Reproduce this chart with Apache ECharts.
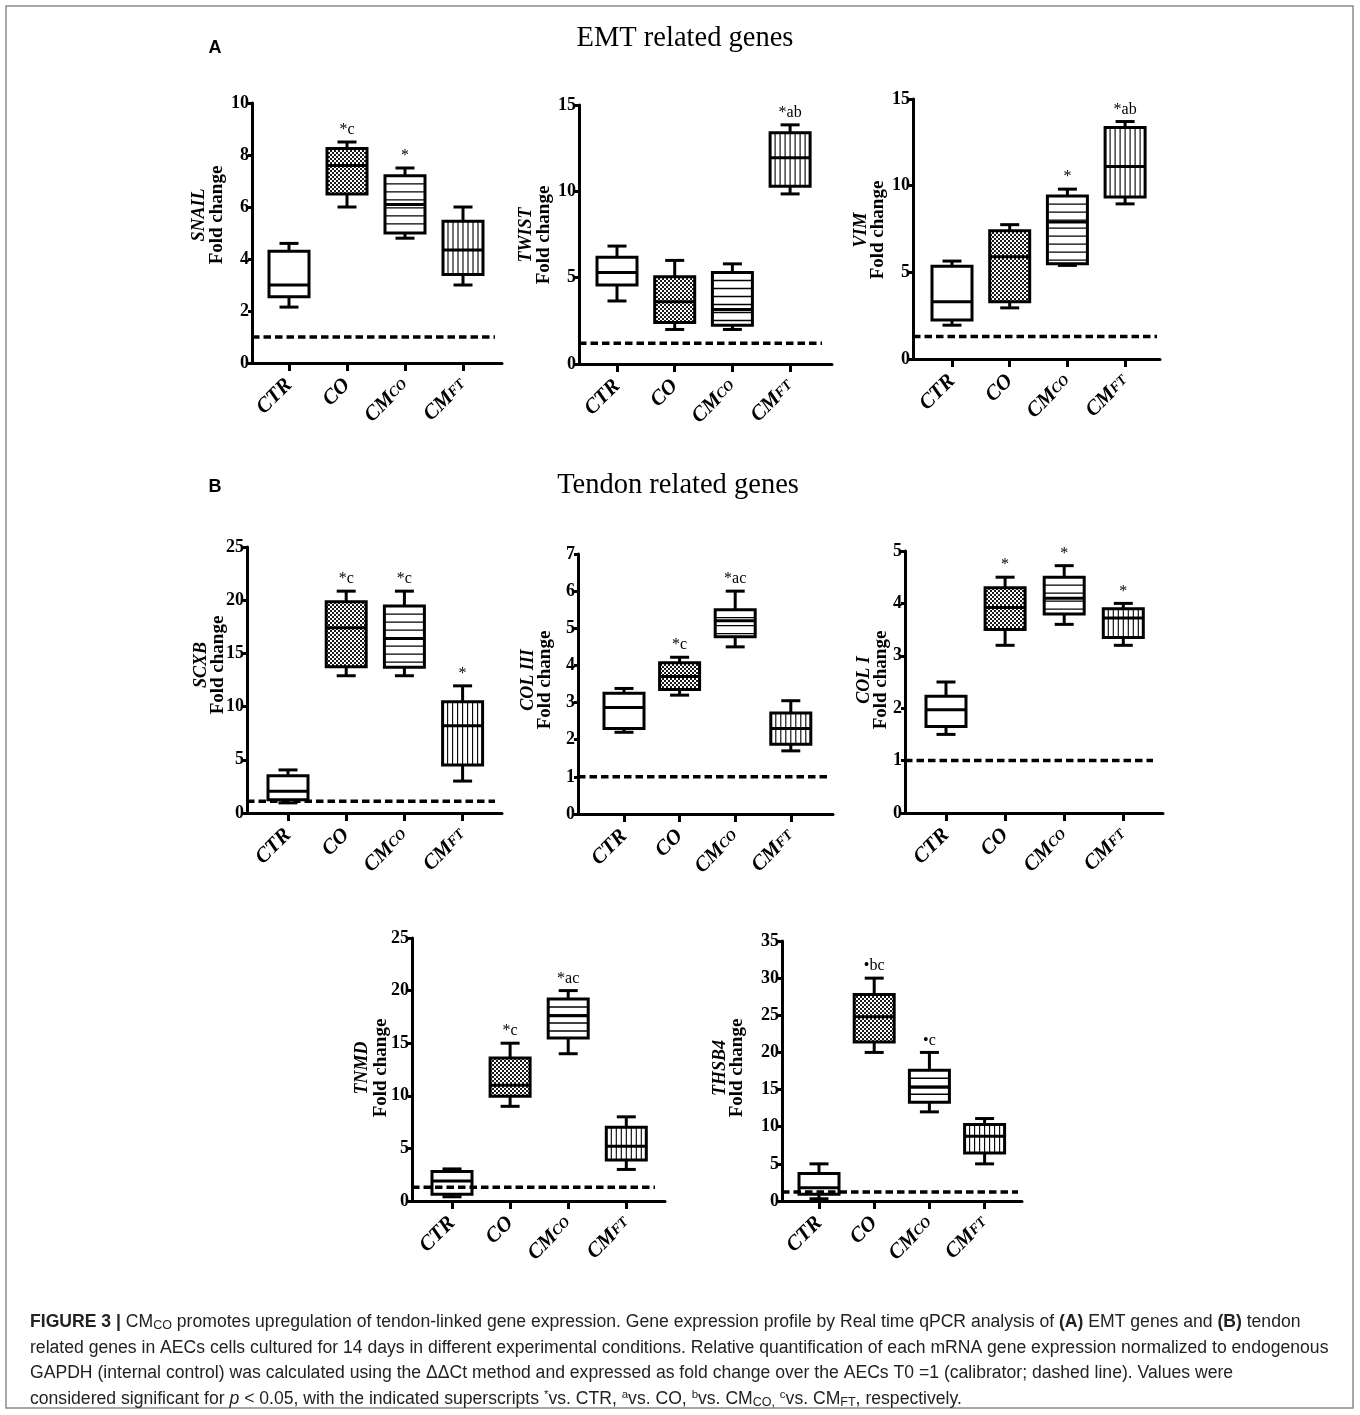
<!DOCTYPE html>
<html><head><meta charset="utf-8">
<script src="https://cdn.jsdelivr.net/npm/echarts@6/dist/echarts.min.js"></script>
<style>html,body{margin:0;padding:0;background:#fff}#c{width:1360px;height:1415px}</style>
</head><body><div id="c"></div><script>
// ---------- DATA (min, Q1, median, Q3, max) ----------
const categories = ['CTR', 'CO', 'CMCO', 'CMFT'];
const snail = [[2.15,2.55,3.0,4.3,4.6],[6.0,6.5,7.6,8.25,8.5],[4.8,5.0,6.1,7.2,7.5],[3.0,3.4,4.35,5.45,6.0]];
const twist = [[3.65,4.57,5.3,6.18,6.83],[2.0,2.4,3.6,5.05,6.0],[2.0,2.25,3.15,5.3,5.8],[9.85,10.3,11.95,13.4,13.85]];
const vim   = [[1.95,2.25,3.3,5.35,5.65],[2.95,3.3,5.9,7.4,7.75],[5.4,5.5,7.9,9.4,9.8],[8.95,9.35,11.1,13.35,13.7]];
const scxb  = [[0.95,1.25,2.05,3.5,4.05],[12.9,13.75,17.4,19.85,20.85],[12.9,13.7,16.4,19.45,20.85],[3.0,4.5,8.2,10.45,11.95]];
const col3  = [[2.2,2.3,2.87,3.25,3.38],[3.2,3.35,3.7,4.07,4.22],[4.5,4.77,5.2,5.5,6.0],[1.7,1.88,2.3,2.72,3.05]];
const col1  = [[1.5,1.65,1.97,2.23,2.5],[3.2,3.5,3.92,4.3,4.5],[3.6,3.8,4.1,4.5,4.72],[3.2,3.35,3.72,3.9,4.0]];
const tnmd  = [[0.4,0.65,1.9,2.8,3.05],[9.0,9.95,11.0,13.6,15.0],[14.0,15.5,17.6,19.2,20.0],[3.0,3.9,5.2,7.0,8.0]];
const thsb4 = [[0.3,0.9,1.8,3.7,5.0],[20.0,21.4,24.8,27.8,30.0],[12.0,13.3,15.3,17.6,20.0],[5.0,6.45,8.7,10.3,11.1]];
// significance superscripts
const snailSig = ['', '*c', '*', ''];
const twistSig = ['', '', '', '*ab'];
const vimSig   = ['', '', '*', '*ab'];
const scxbSig  = ['', '*c', '*c', '*'];
const col3Sig  = ['', '*c', '*ac', ''];
const col1Sig  = ['', '*', '*', '*'];
const tnmdSig  = ['', '*c', '*ac', ''];
const thsb4Sig = ['', '\u2022bc', '\u2022c', ''];
// calibrator level (dashed line) per panel
const calibrator = [1.0, 1.2, 1.3, 1.1, 1.0, 1.0, 1.3, 1.2];
// y-axis maxima and tick steps
const yMaxes = [10, 15, 15, 25, 7, 5, 25, 35];
const ySteps = [2, 5, 5, 5, 1, 1, 5, 5];
const geneNames = ['SNAIL', 'TWIST', 'VIM', 'SCXB', 'COL III', 'COL I', 'TNMD', 'THSB4'];

// ---------- LAYOUT ----------
const layout = [
  {left:252, top:103, right:502, bottom:363, c0:289, s:58.0, dashEnd:495, nx:[199,217], ny:215},
  {left:579, top:105, right:832, bottom:364, c0:617, s:57.7, dashEnd:822, nx:[526,544], ny:235},
  {left:913, top:99,  right:1160, bottom:359, c0:952, s:57.7, dashEnd:1157, nx:[861,878], ny:230},
  {left:247, top:547, right:502, bottom:813, c0:288, s:58.2, dashEnd:495, nx:[201,218], ny:665},
  {left:578, top:554, right:833, bottom:814, c0:624, s:55.6, dashEnd:828, nx:[528,545], ny:680},
  {left:905, top:551, right:1163, bottom:813, c0:946, s:59.1, dashEnd:1153, nx:[864,881], ny:680},
  {left:412, top:938, right:665, bottom:1201, c0:452, s:58.1, dashEnd:655, nx:[362,381], ny:1068},
  {left:782, top:941, right:1022, bottom:1201, c0:819, s:55.2, dashEnd:1018, nx:[720,737], ny:1068}
];
const allData = [snail, twist, vim, scxb, col3, col1, tnmd, thsb4];
const allSig = [snailSig, twistSig, vimSig, scxbSig, col3Sig, col1Sig, tnmdSig, thsb4Sig];

// pattern for CO boxes
const pc = document.createElement('canvas'); pc.width = 4; pc.height = 4;
const pg = pc.getContext('2d');
pg.fillStyle = '#fff'; pg.fillRect(0,0,4,4);
pg.fillStyle = '#1a1a1a'; pg.fillRect(0,0,2,2); pg.fillRect(2,2,2,2);

const SERIF = '"Liberation Serif","Times New Roman",serif';
const SANS = '"Liberation Sans",Arial,sans-serif';

function makeRender(sig) {
  return function (params, api) {
    const i = api.value(0);
    const cx = api.coord([i, 0])[0];
    const yMin = api.coord([i, api.value(1)])[1];
    const yQ1 = api.coord([i, api.value(2)])[1];
    const yMed = api.coord([i, api.value(3)])[1];
    const yQ3 = api.coord([i, api.value(4)])[1];
    const yMax = api.coord([i, api.value(5)])[1];
    const hw = 20, cap = 9.5, lw = 3;
    const L = (x1,y1,x2,y2,w) => ({type:'line', shape:{x1,y1,x2,y2}, style:{stroke:'#000', lineWidth:w||lw, fill:'none'}});
    const ch = [];
    ch.push(L(cx, yMax, cx, yQ3)); ch.push(L(cx, yQ1, cx, yMin));
    ch.push(L(cx-cap, yMax, cx+cap, yMax)); ch.push(L(cx-cap, yMin, cx+cap, yMin));
    const fill = (i === 1) ? {image: pc, repeat: 'repeat'} : '#fff';
    ch.push({type:'rect', shape:{x:cx-hw, y:yQ3, width:2*hw, height:yQ1-yQ3}, style:{fill:fill, stroke:'none'}});
    if (i === 2) {
      for (let y = yQ3 + 8; y < yQ1 - 3; y += 8) ch.push(L(cx-hw, y, cx+hw, y, 1.3));
    }
    if (i === 3) {
      for (let x = cx - hw + 5; x < cx + hw - 2; x += 5) ch.push(L(x, yQ3, x, yQ1, 1.1));
    }
    ch.push({type:'rect', shape:{x:cx-hw, y:yQ3, width:2*hw, height:yQ1-yQ3}, style:{fill:'none', stroke:'#000', lineWidth:lw}});
    ch.push(L(cx-hw, yMed, cx+hw, yMed, 3));
    const t = sig[params.dataIndex];
    if (t) ch.push({type:'text', style:{text:t, x:cx, y:yMax-4, align:'center', verticalAlign:'bottom', font:'16px ' + SERIF, fill:'#000'}});
    return {type:'group', children: ch};
  };
}

const grids = [], xAxes = [], yAxes = [], series = [], graphics = [];
layout.forEach((p, k) => {
  grids.push({left:p.left, top:p.top, width:p.right-p.left, height:p.bottom-p.top, outerBoundsMode:'none', containLabel:false});
  const xmin = (p.left - p.c0) / p.s, xmax = (p.right - p.c0) / p.s;
  xAxes.push({
    type:'value', gridIndex:k, min:xmin, max:xmax,
    axisLine:{show:true, onZero:false, lineStyle:{color:'#000', width:3}},
    axisTick:{show:true, customValues:[0,1,2,3], length:8, lineStyle:{color:'#000', width:3}},
    axisLabel:{show:true, customValues:[0,1,2,3], rotate:45, margin:19,
      formatter: v => { const c = categories[Math.round(v)];
        if (c === 'CMCO') return '{a|CM}{b|CO}'; if (c === 'CMFT') return '{a|CM}{b|FT}'; return '{a|' + c + '}'; },
      rich:{a:{fontFamily:SERIF, fontSize:21, fontWeight:'bold', fontStyle:'italic', color:'#000'},
            b:{fontFamily:SERIF, fontSize:14, fontWeight:'bold', fontStyle:'italic', color:'#000'}}},
    splitLine:{show:false}
  });
  yAxes.push({
    type:'value', gridIndex:k, min:0, max:yMaxes[k], interval:ySteps[k],
    axisLine:{show:true, onZero:false, lineStyle:{color:'#000', width:3}},
    axisTick:{show:true, length:4, lineStyle:{color:'#000', width:3}},
    axisLabel:{show:true, margin:3, fontFamily:SERIF, fontSize:18, fontWeight:'bold', color:'#000'},
    splitLine:{show:false}
  });
  series.push({
    type:'custom', xAxisIndex:k, yAxisIndex:k, clip:false,
    renderItem: makeRender(allSig[k]),
    encode:{x:0, y:[1,2,3,4,5]},
    data: allData[k].map((d, i) => [i].concat(d)),
    z:2
  });
  const dEnd = (p.dashEnd - p.c0) / p.s;
  series.push({
    type:'line', xAxisIndex:k, yAxisIndex:k, symbol:'none', silent:true, z:5,
    lineStyle:{color:'#000', width:3.5, type:[7.5,4]},
    data:[[xmin, calibrator[k]], [dEnd, calibrator[k]]]
  });
  graphics.push({type:'text', x:p.nx[0], y:p.ny, rotation:Math.PI/2,
    style:{text:geneNames[k], font:'italic bold 18px ' + SERIF, fill:'#000', align:'center', verticalAlign:'middle'}});
  graphics.push({type:'text', x:p.nx[1], y:p.ny, rotation:Math.PI/2,
    style:{text:'Fold change', font:'bold 19px ' + SERIF, fill:'#000', align:'center', verticalAlign:'middle'}});
});

// titles
graphics.push({type:'text', x:685, y:39, style:{text:'EMT related genes', font:'28.5px ' + SERIF, fill:'#000', align:'center', verticalAlign:'middle'}});
graphics.push({type:'text', x:678, y:486, style:{text:'Tendon related genes', font:'28.5px ' + SERIF, fill:'#000', align:'center', verticalAlign:'middle'}});
graphics.push({type:'text', x:215, y:48, style:{text:'A', font:'bold 18px ' + SANS, fill:'#000', align:'center', verticalAlign:'middle'}});
graphics.push({type:'text', x:215, y:487, style:{text:'B', font:'bold 18px ' + SANS, fill:'#000', align:'center', verticalAlign:'middle'}});
// border
graphics.push({type:'rect', shape:{x:6, y:6, width:1347, height:1402}, style:{fill:'none', stroke:'#8a8a8a', lineWidth:1.5}, silent:true});

// caption
const CF = 17.6;
const capRich = {
  b:{fontFamily:SANS, fontSize:CF, fontWeight:'bold', color:'#222'},
  s:{fontFamily:SANS, fontSize:12.5, color:'#222', padding:[7,0,0,0]},
  p:{fontFamily:SANS, fontSize:11.5, color:'#222', padding:[0,0,8,0]},
  i:{fontFamily:SANS, fontSize:CF, fontStyle:'italic', color:'#222'}
};
const captionLines = [
  '{b|FIGURE 3 |} CM{s|CO} promotes upregulation of tendon-linked gene expression. Gene expression profile by Real time qPCR analysis of {b|(A)} EMT genes and {b|(B)} tendon',
  'related genes in AECs cells cultured for 14 days in different experimental conditions. Relative quantification of each mRNA gene expression normalized to endogenous',
  'GAPDH (internal control) was calculated using the \u0394\u0394Ct method and expressed as fold change over the AECs T0 =1 (calibrator; dashed line). Values were',
  'considered significant for {i|p} < 0.05, with the indicated superscripts {p|*}vs. CTR, {p|a}vs. CO, {p|b}vs. CM{s|CO,} {p|c}vs. CM{s|FT}, respectively.'
];
const capY = [1322, 1348, 1373, 1399];
captionLines.forEach((t, j) => {
  graphics.push({type:'text', x:30, y:capY[j], style:{text:t, rich:capRich, font:CF + 'px ' + SANS, fill:'#222', align:'left', verticalAlign:'middle'}});
});

const chart = echarts.init(document.getElementById('c'), null, {renderer:'canvas'});
chart.setOption({
  backgroundColor:'#fff', animation:false,
  grid:grids, xAxis:xAxes, yAxis:yAxes, series:series, graphic:{elements:graphics}
});
</script></body></html>
